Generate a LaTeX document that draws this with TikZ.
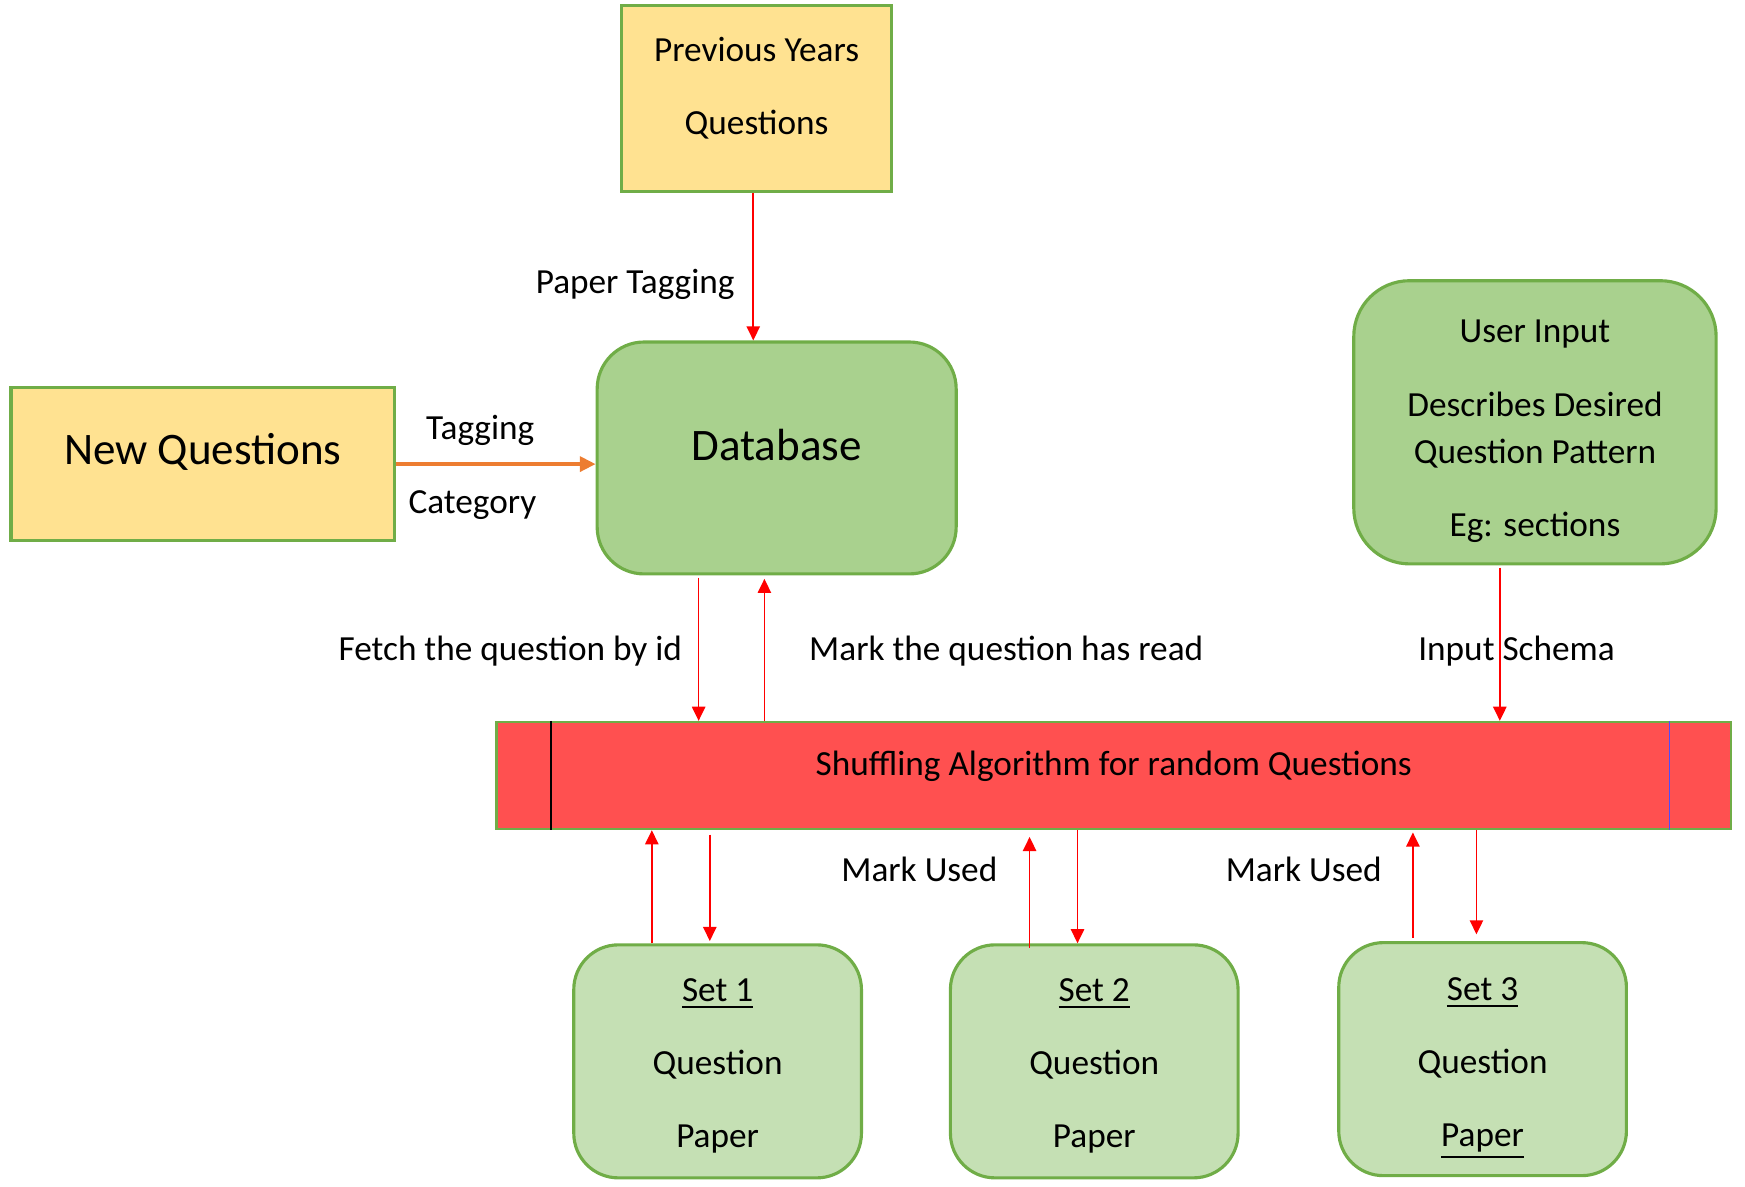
\documentclass[tikz,border=0pt]{standalone}
\usepackage{fontspec}
\setmainfont{Carlito}
\usepackage{xcolor}
\usepackage{tikz}
\usetikzlibrary{arrows.meta}
\definecolor{boxgreen}{RGB}{112,173,71}
\definecolor{paleyellow}{RGB}{255,226,145}
\definecolor{dbgreen}{RGB}{169,209,142}
\definecolor{setgreen}{RGB}{197,224,180}
\definecolor{shufflered}{RGB}{255,80,80}
\definecolor{tagorange}{RGB}{237,125,49}

\begin{document}
\begin{tikzpicture}[x=0.01cm, y=-0.01cm]
    \tikzstyle{source} = [rectangle, draw=boxgreen, line width=0.8pt, fill=paleyellow]
    \tikzstyle{store} = [rectangle, rounded corners=0.42cm, draw=boxgreen, line width=0.8pt, fill=dbgreen]
    \tikzstyle{paperset} = [rectangle, rounded corners=0.4cm, draw=boxgreen, line width=0.8pt, fill=setgreen, minimum width=2.58cm, minimum height=2.09cm]
    \tikzstyle{boxtext} = [align=center, inner sep=0pt]
    \tikzstyle{settext} = [boxtext, font=\fontsize{9}{18.6}\selectfont]
    \tikzstyle{flow} = [-{Triangle[length=3.6pt,width=3.4pt]}, red, line width=0.4pt]
    \tikzstyle{lbl} = [font=\fontsize{9}{11}\selectfont, inner sep=1pt]

    \useasboundingbox (0,0) rectangle (1566,1064.4);

    % Sources
    \node [source, minimum width=2.42cm, minimum height=1.67cm] (prev) at (679,88.5) {};
    \node [boxtext, font=\fontsize{9}{18.5}\selectfont] (prevtext) at ([yshift=2.7pt]prev.center) {Previous Years\\Questions};
    \node [source, minimum width=3.44cm, minimum height=1.37cm] (newq) at (182,416.5) {};
    \node [boxtext, font=\fontsize{11.5}{14}\selectfont] (newqtext) at ([yshift=3.1pt]newq.center) {New Questions};

    % Database and user input
    \node [store, minimum width=3.22cm, minimum height=2.08cm] (db) at (697,411) {};
    \node [boxtext, font=\fontsize{11.5}{14}\selectfont] (dbtext) at ([yshift=3.2pt]db.center) {Database};
    \node [store, rounded corners=0.5cm, minimum width=3.25cm, minimum height=2.54cm] (user) at (1377.5,379) {};
    \node [boxtext, font=\fontsize{9}{12}\selectfont] (usertext) at ([yshift=-2.3pt]user.center) {User Input\\[6.8pt]Describes Desired\\Question Pattern\\[6.8pt]Eg: sections};

    % Shuffling bar
    \node [rectangle, draw=boxgreen, line width=0.6pt, fill=shufflered, minimum width=11.07cm, minimum height=0.96cm] (bar) at (999.5,696) {};
    \node [boxtext, font=\fontsize{9}{11}\selectfont] (bartext) at ([yshift=2.4pt]bar.center) {Shuffling Algorithm for random Questions};
    \draw [black, line width=0.6pt] ([xshift=0.5cm]bar.north west) -- ([xshift=0.5cm]bar.south west);
    \draw [blue!70, line width=0.3pt] ([xshift=-0.56cm]bar.north east) -- ([xshift=-0.56cm]bar.south east);

    % Question paper sets
    \node [paperset] (set1) at (644,952.5) {};
    \node [paperset] (set2) at (982,952.5) {};
    \node [paperset] (set3) at (1330.5,950.5) {};
    \node [settext] (set1text) at ([yshift=-1.1pt]set1.center) {\underline{Set 1}\\Question\\Paper};
    \node [settext] (set2text) at ([yshift=-1.1pt]set2.center) {\underline{Set 2}\\Question\\Paper};
    \node [settext] (set3text) at ([yshift=-2.4pt]set3.center) {\underline{Set 3}\\Question\\\underline{Paper}};

    % Arrows
    \draw [flow] ([xshift=-0.03cm]prev.south) -- ([xshift=-0.03cm]prev.south |- db.north);
    \draw [-{Triangle[length=4pt,width=3.8pt]}, tagorange, line width=0.9pt] (newq.east) -- (newq.east -| db.west);
    \draw [flow] ([xshift=-0.7cm, yshift=-0.02cm]db.south) -- ([xshift=-0.7cm]db.south |- bar.north);
    \draw [flow] ([xshift=-0.11cm]db.south |- bar.north) -- ([xshift=-0.11cm, yshift=-0.03cm]db.south);
    \draw [flow] ([xshift=-0.315cm, yshift=-0.02cm]user.south) -- ([xshift=-0.315cm]user.south |- bar.north);

    \draw [flow] ([xshift=-0.59cm]set1.north) -- ([xshift=-0.59cm]set1.north |- bar.south);
    \draw [flow] ([xshift=-0.07cm, yshift=-0.04cm]set1.north |- bar.south) -- ([xshift=-0.07cm, yshift=0.02cm]set1.north);
    \draw [flow] ([xshift=-0.58cm, yshift=-0.04cm]set2.north) -- ([xshift=-0.58cm, yshift=-0.06cm]set2.north |- bar.south);
    \draw [flow] ([xshift=-0.15cm]set2.north |- bar.south) -- ([xshift=-0.15cm]set2.north);
    \draw [flow] ([xshift=-0.625cm, yshift=0.03cm]set3.north) -- ([xshift=-0.625cm, yshift=-0.02cm]set3.north |- bar.south);
    \draw [flow] ([xshift=-0.055cm]set3.north |- bar.south) -- ([xshift=-0.055cm, yshift=0.06cm]set3.north);

    % Labels
    \node [lbl] (ptag) at (570,255) {Paper Tagging};
    \node [lbl] (tag) at (431,386) {Tagging};
    \node [lbl] (cat) at (424,453) {Category};
    \node [lbl] (fetch) at (458,584) {Fetch the question by id};
    \node [lbl] (markread) at (903,584) {Mark the question has read};
    \node [lbl] (schema) at (1361,584) {Input Schema};
    \node [lbl] (used1) at (825,780) {Mark Used};
    \node [lbl] (used2) at (1170,780) {Mark Used};
\end{tikzpicture}
\end{document}
